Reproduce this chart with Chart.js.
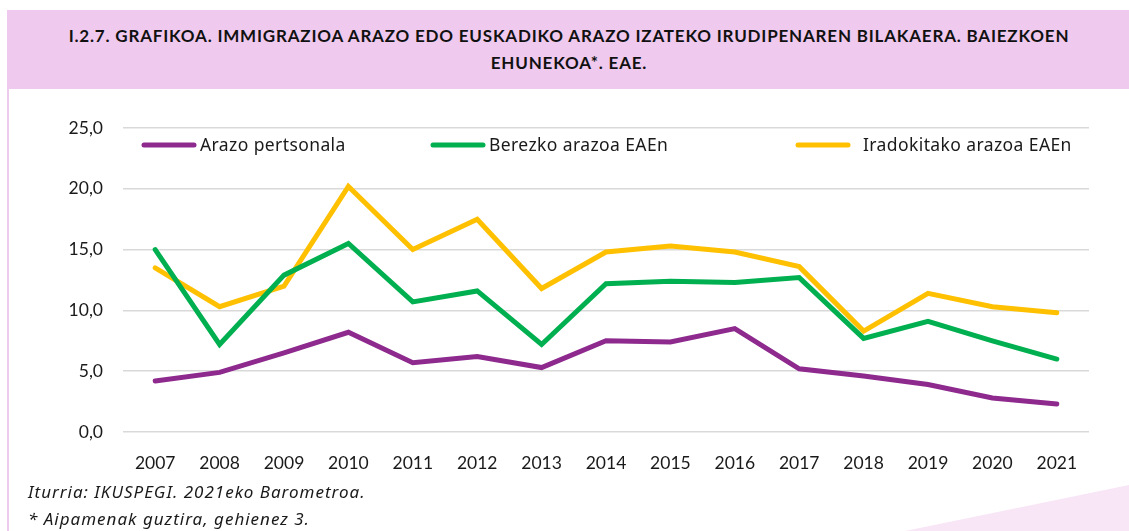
<!DOCTYPE html>
<html>
<head>
<meta charset="utf-8">
<script src="https://cdn.jsdelivr.net/npm/chart.js@4.4.1/dist/chart.umd.min.js"></script>
<style>
  html, body { margin: 0; padding: 0; background: #fff; }
  body { width: 1129px; height: 531px; position: relative; overflow: hidden; font-family: Lato, "Noto Sans", sans-serif; }
  #header {
    position: absolute; left: 7px; top: 10px; width: 1122px; height: 79px;
    background: #f0caee;
  }
  #header .t {
    position: absolute; left: 0; width: 1124px; top: 12px;
    text-align: center; font-weight: bold; font-size: 17px; letter-spacing: 0.8px; line-height: 27px; color: #111;
  }
  #leftline { position: absolute; left: 7px; top: 89px; width: 2px; height: 442px; background: #eccbec; }
  #corner { position: absolute; left: 0; top: 0; width: 1129px; height: 531px; }
  #wrap { position: absolute; left: 0; top: 0; width: 1129px; height: 531px; }
  .note { position: absolute; left: 28px; font-family: "Noto Sans", sans-serif; font-style: italic; font-size: 17px; letter-spacing: 1px; color: #1a1a1a; }
</style>
</head>
<body>
<svg id="corner" width="1129" height="531"><polygon points="905,531 1129,485 1129,531" fill="#f8e6f6"/></svg>
<div id="header"><div class="t">I.2.7. GRAFIKOA. IMMIGRAZIOA ARAZO EDO EUSKADIKO ARAZO IZATEKO IRUDIPENAREN BILAKAERA. BAIEZKOEN<br>EHUNEKOA*. EAE.</div></div>
<div id="leftline"></div>
<div id="wrap"><canvas id="chart" width="1129" height="531"></canvas></div>
<div class="note" style="top:480px">Iturria: IKUSPEGI. 2021eko Barometroa.</div>
<div class="note" style="top:507px">* Aipamenak guztira, gehienez 3.</div>
<script>
const years = ['2007', '2008', '2009', '2010', '2011', '2012', '2013', '2014', '2015', '2016', '2017', '2018', '2019', '2020', '2021'];
const arazoPertsonala = [4.2, 4.9, 6.5, 8.2, 5.7, 6.2, 5.3, 7.5, 7.4, 8.5, 5.2, 4.6, 3.9, 2.8, 2.3];
const berezkoArazoa = [15.0, 7.2, 12.9, 15.5, 10.7, 11.6, 7.2, 12.2, 12.4, 12.3, 12.7, 7.7, 9.1, 7.5, 6.0];
const iradokitakoArazoa = [13.5, 10.3, 12.0, 20.2, 15.0, 17.5, 11.8, 14.8, 15.3, 14.8, 13.6, 8.3, 11.4, 10.3, 9.8];
const yTickLabels = ['0,0', '5,0', '10,0', '15,0', '20,0', '25,0'];

const FONT = 'Lato, "Noto Sans", sans-serif';

// legend drawn by hand, spaced like the original
const legendX = [142, 431, 796];
const legendPlugin = {
  id: 'manualLegend',
  afterDraw(chart) {
    const c = chart.ctx;
    c.save();
    chart.data.datasets.forEach((ds, i) => {
      const x = legendX[i], y = 145;
      c.strokeStyle = ds.borderColor;
      c.lineWidth = 5;
      c.lineCap = 'round';
      c.beginPath();
      c.moveTo(x + 2, y);
      c.lineTo(x + 52, y);
      c.stroke();
      c.fillStyle = '#1a1a1a';
      c.font = '17.5px "Noto Sans", sans-serif';
      c.letterSpacing = '0.4px';
      c.textBaseline = 'middle';
      c.fillText(ds.label, x + (i === 2 ? 67 : 58), y + 1);
    });
    c.restore();
  }
};

const line = (label, data, color) => ({
  label, data,
  borderColor: color, backgroundColor: color,
  borderWidth: 5, borderCapStyle: 'round', borderJoinStyle: 'miter',
  pointRadius: 0, tension: 0, fill: false
});

new Chart(document.getElementById('chart'), {
  type: 'line',
  data: {
    labels: years,
    datasets: [
      line('Arazo pertsonala', arazoPertsonala, '#8e2a8e'),
      line('Berezko arazoa EAEn', berezkoArazoa, '#00b050'),
      line('Iradokitako arazoa EAEn', iradokitakoArazoa, '#ffc000')
    ]
  },
  options: {
    responsive: false,
    animation: false,
    layout: { padding: { top: 128, left: 40, right: 40, bottom: 30 } },
    plugins: { legend: { display: false }, tooltip: { enabled: false } },
    scales: {
      x: {
        offset: true,
        grid: { display: false, drawTicks: false },
        border: { display: false },
        ticks: { color: '#1a1a1a', font: { family: FONT, size: 17.5 }, padding: 21, maxRotation: 0 },
        afterFit: (s) => { s.height = 69; }
      },
      y: {
        min: 0, max: 25,
        grid: { color: '#d9d9d9', lineWidth: 1.5, drawTicks: false },
        border: { display: false },
        ticks: {
          stepSize: 5, color: '#1a1a1a', font: { family: FONT, size: 17.5 }, padding: 20,
          callback: (v, i) => yTickLabels[i]
        },
        afterFit: (s) => { s.width = 83; }
      }
    }
  },
  plugins: [legendPlugin]
});
</script>
</body>
</html>
